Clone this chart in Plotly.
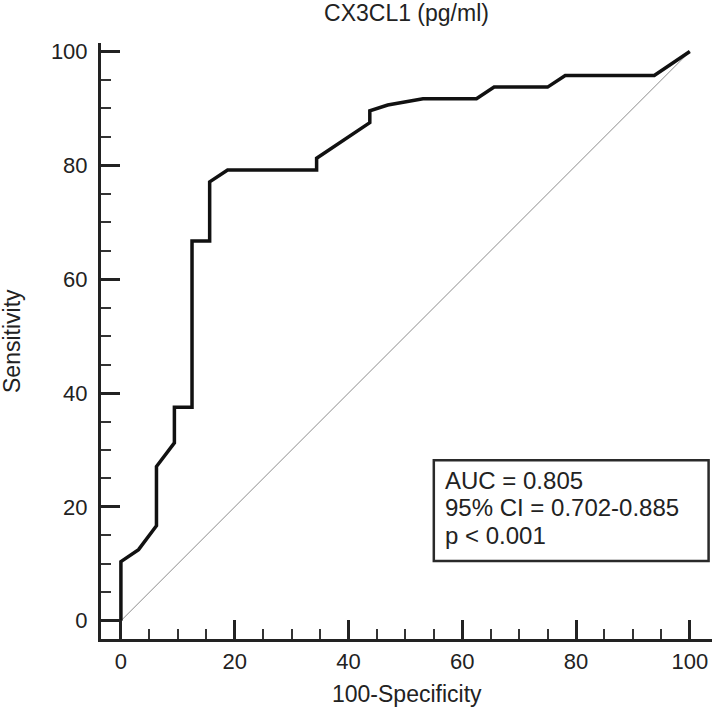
import plotly.graph_objects as go

# ROC curve points (100-Specificity, Sensitivity)
fpr = [0, 0, 3.1, 6.25, 6.25, 9.4, 9.4, 12.5, 12.5, 15.6, 15.6, 18.75, 34.4, 34.4,
       43.75, 43.75, 46.9, 53.1, 62.5, 65.6, 75.0, 78.1, 93.75, 100]
tpr = [0, 10.4, 12.5, 16.7, 27.1, 31.25, 37.5, 37.5, 66.7, 66.7, 77.1, 79.2, 79.2, 81.25,
       87.5, 89.6, 90.6, 91.7, 91.7, 93.75, 93.75, 95.8, 95.8, 100]
ref_x = [0, 100]
ref_y = [0, 100]
tick_vals = [0, 20, 40, 60, 80, 100]
stats_lines = ["AUC = 0.805", "95% CI = 0.702-0.885", "p < 0.001"]

FONT = "Liberation Sans, Arial, sans-serif"
TXT = "#222222"

fig = go.Figure()
fig.add_trace(go.Scatter(x=ref_x, y=ref_y, mode="lines",
                         line=dict(color="#8c8c8c", width=1), hoverinfo="skip"))
fig.add_trace(go.Scatter(x=fpr, y=tpr, mode="lines",
                         line=dict(color="#111111", width=3.5)))

axis_common = dict(
    showline=True, linecolor="#222222", linewidth=3,
    ticks="inside", ticklen=19, tickwidth=2.5, tickcolor="#222222",
    tickvals=tick_vals, showgrid=False, zeroline=False,
    tickfont=dict(family=FONT, size=22, color=TXT),
    minor=dict(ticks="inside", ticklen=10, tickwidth=1.5, tickcolor="#333333", dtick=5, showgrid=False),
)

fig.update_layout(
    width=712, height=712,
    margin=dict(l=101, r=0, t=43, b=73),
    paper_bgcolor="white", plot_bgcolor="white",
    showlegend=False,
    xaxis=dict(range=[-3.5, 103.9], ticklabelstandoff=1, **axis_common),
    yaxis=dict(range=[-3.2, 101.5], ticklabelstandoff=6, **axis_common),
    title=dict(text="CX3CL1 (pg/ml)", x=0.5, xref="paper", y=0.982, yref="container",
               yanchor="middle", font=dict(family=FONT, size=23, color=TXT)),
)

# stats box
fig.add_shape(type="rect", xref="x", yref="y", x0=55.0, x1=103.3, y0=10.5, y1=28.2,
              line=dict(color="#2a2a2a", width=2.5), fillcolor="white", layer="above")
for yv, t in zip([24.7, 19.9, 14.9], stats_lines):
    fig.add_annotation(x=56.7, y=yv, xref="x", yref="y", text=t, showarrow=False,
                       xanchor="left", yanchor="middle",
                       font=dict(family=FONT, size=24, color=TXT))

# axis titles
fig.add_annotation(x=-0.1457, y=0.5, xref="paper", yref="paper", text="Sensitivity",
                   textangle=-90, showarrow=False, xanchor="center", yanchor="middle",
                   font=dict(family=FONT, size=23, color=TXT))
fig.add_annotation(x=0.5, y=-0.0915, xref="paper", yref="paper", text="100-Specificity",
                   showarrow=False, xanchor="center", yanchor="middle",
                   font=dict(family=FONT, size=23, color=TXT))

fig.write_html("out.html")
